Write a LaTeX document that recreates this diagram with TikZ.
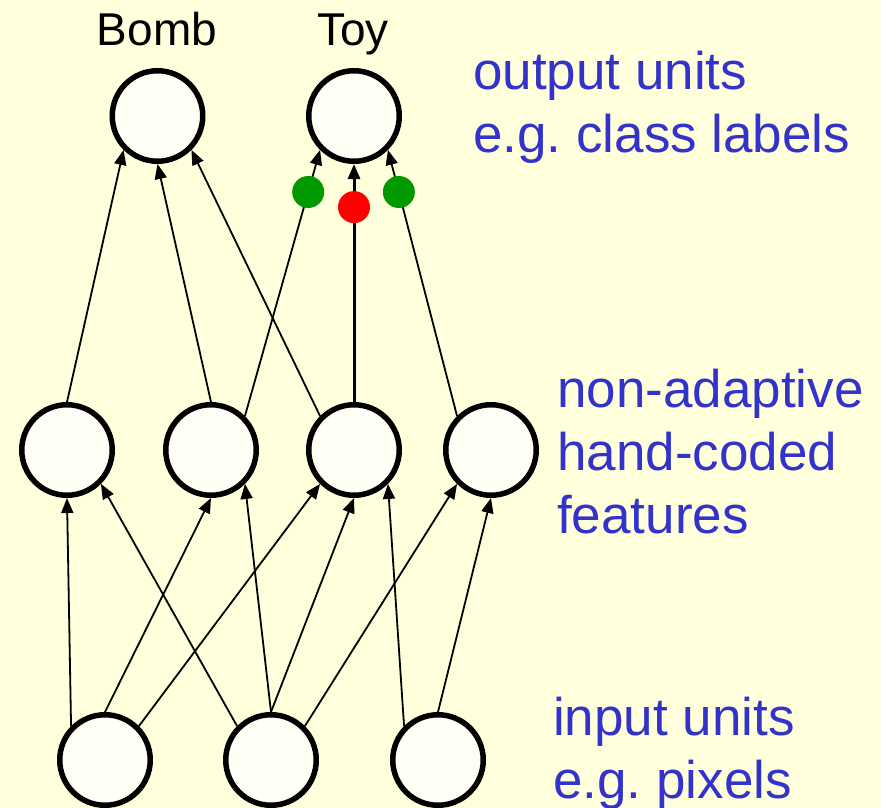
\documentclass[tikz,border=0pt]{standalone}
\usepackage{fontspec}
\setmainfont{Liberation Sans}
\usetikzlibrary{arrows.meta}
\definecolor{slidebg}{HTML}{FFFFDC}
\definecolor{unitfill}{HTML}{FFFFF6}
\definecolor{noteblue}{HTML}{3333CC}
\definecolor{wgreen}{HTML}{009900}
\frenchspacing

\tikzset{
  unit/.style={shape=circle,draw=black,line width=5.5pt,fill=unitfill,minimum size=90.5pt,inner sep=0pt},
  conn/.style={-{Triangle[length=15pt,width=12pt]},line width=1.8pt},
  wdot/.style={shape=circle,inner sep=0pt,minimum size=32pt},
  cls/.style={font=\fontsize{46}{46}\selectfont,inner sep=0pt},
  note/.style={text=noteblue,align=left,anchor=base west,inner sep=0pt,font=\fontsize{53}{63}\selectfont},
}

\begin{document}
\begin{tikzpicture}[x=1pt,y=-1pt]
    \fill[slidebg] (0,0) rectangle (881,808);
    \useasboundingbox (0,0) rectangle (881,808);
    \node[unit] (o1) at (157.5,116) {};
    \node[unit] (o2) at (354,116) {};
    \node[unit] (h1) at (67,450) {};
    \node[unit] (h2) at (211,450) {};
    \node[unit] (h3) at (354,450) {};
    \node[unit] (h4) at (491,450) {};
    \node[unit] (i1) at (105,760) {};
    \node[unit] (i2) at (271,760) {};
    \node[unit] (i3) at (438,760) {};
    \node[cls,anchor=base] (bomb) at (157,46) {Bomb};
    \node[cls,anchor=base] (toy) at (353,46) {Toy};
    % base anchor sits on the last line
    \node[note] (outnote) at (473,152) {output units\\e.g. class labels};
    \node[note] (hidnote) at (557,533) {non-adaptive\\hand-coded\\features};
    \node[note] (innote) at (553,798) {input units\\e.g. pixels};
    \path[conn] (i1.north west) edge (h1.south);
    \path[conn] (i1.north) edge (h2.south);
    \path[conn] (i1.north east) edge (h3.south west);
    \path[conn] (i2.north west) edge (h1.south east);
    \path[conn] (i2.north) edge (h2.south east);
    \path[conn] (i2.north) edge (h3.south);
    \path[conn] (i2.north east) edge (h4.south west);
    \path[conn] (i3.north west) edge (h3.south east);
    \path[conn] (i3.north) edge (h4.south);
    \path[conn] (h1.north) edge (o1.south west);
    \path[conn] (h2.north) edge (o1.south);
    \path[conn] (h3.north west) edge (o1.south east);
    \path[conn] (h2.north east) edge node[wdot,fill=wgreen,pos=0.842] (wleft) {} (o2.south west);
    \path[conn,line width=3pt] (h3.north) edge node[wdot,fill=red,pos=0.819] (wmid) {} (o2.south);
    \path[conn] (h4.north west) edge node[wdot,fill=wgreen,pos=0.842] (wright) {} (o2.south east);
\end{tikzpicture}
\end{document}
